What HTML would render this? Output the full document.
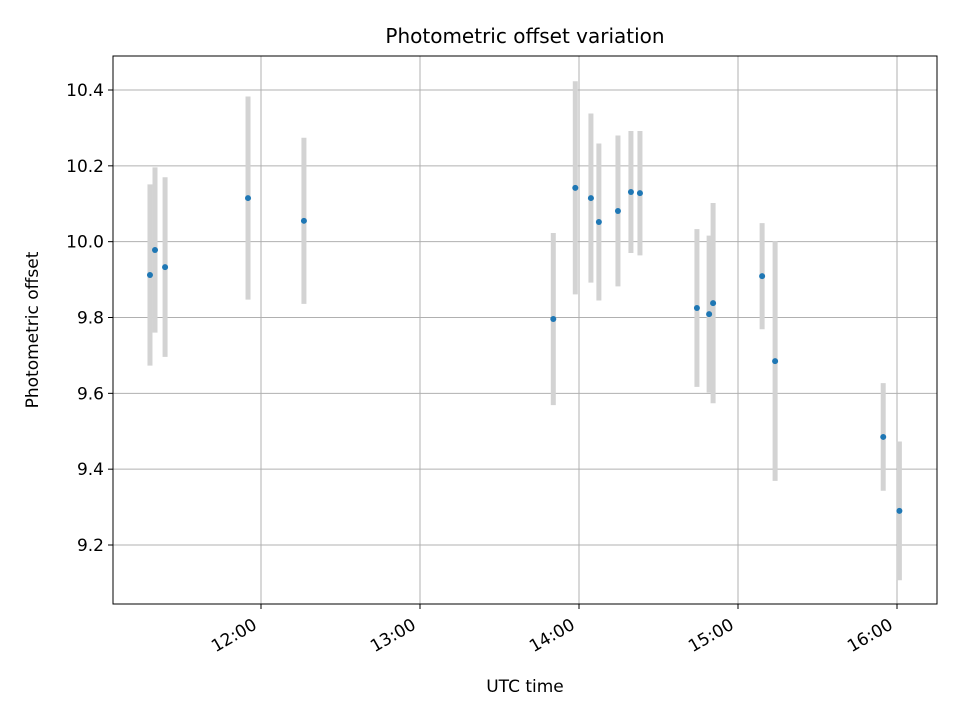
<!DOCTYPE html>
<html><head><meta charset="utf-8">
<style>
html,body{margin:0;padding:0;background:#fff;}
svg text{font-family:"DejaVu Sans","Liberation Sans",sans-serif;}
</style></head>
<body>
<svg id="chart" width="960" height="720" viewBox="0 0 960 720" xmlns="http://www.w3.org/2000/svg">
<rect width="960" height="720" fill="#fff"/>
<text x="525" y="43" style="font-size:20px" text-anchor="middle">Photometric offset variation</text>
<g id="grid"></g>
<g id="errs"></g>
<g id="pts"></g>
<rect x="113" y="56" width="824" height="548" fill="none" stroke="#000" stroke-width="1"/>
<g id="ticks"></g>
<text x="525" y="692" style="font-size:17px" text-anchor="middle">UTC time</text>
<text transform="translate(38,330) rotate(-90)" style="font-size:17px" text-anchor="middle">Photometric offset</text>
</svg>
<script>
// minutes relative to 12:00 UTC
const times = [-41.9,-40.0,-36.2,-4.9,16.2,110.3,118.6,124.5,127.5,134.7,139.6,143.0,164.5,169.1,170.6,189.1,194.0,234.8,240.9];
const offsets = [9.912,9.978,9.933,10.115,10.055,9.796,10.142,10.115,10.052,10.081,10.131,10.128,9.825,9.809,9.838,9.909,9.685,9.485,9.290];
const errors = [0.239,0.218,0.237,0.268,0.219,0.227,0.281,0.223,0.207,0.199,0.161,0.164,0.208,0.207,0.264,0.140,0.316,0.142,0.183];
const xTicks = [0,60,120,180,240];
const xTickLabels = ["12:00","13:00","14:00","15:00","16:00"];
const yTicks = [9.2,9.4,9.6,9.8,10.0,10.2,10.4];
const yTickLabels = ["9.2","9.4","9.6","9.8","10.0","10.2","10.4"];

const L=113,R=937,T=56,B=604;
function xs(m){return 261 + m*159/60;}
function ys(v){return 90 + (10.4-v)*379.17;}
const NS="http://www.w3.org/2000/svg";
function mk(tag,attrs,parent){const e=document.createElementNS(NS,tag);for(const k in attrs)e.setAttribute(k,attrs[k]);parent.appendChild(e);return e;}
const grid=document.getElementById('grid'),ticks=document.getElementById('ticks'),errs=document.getElementById('errs'),pts=document.getElementById('pts');

xTicks.forEach((m,i)=>{
  const x=xs(m);
  const g=mk('line',{x1:x,x2:x,y1:T,y2:B,stroke:'#b0b0b0','stroke-width':1},grid);
  
  
  const t=mk('line',{x1:x,x2:x,y1:B,y2:B+5,stroke:'#000','stroke-width':1},ticks);
  
  
  const ax=x-3, ay=B+24;
  const lb=mk('text',{x:ax,y:ay,style:'font-size:17px','text-anchor':'end',transform:`rotate(-30 ${ax} ${ay})`},ticks);
  lb.textContent=xTickLabels[i];
  
  
});
yTicks.forEach((v,i)=>{
  const y=ys(v);
  const g=mk('line',{x1:L,x2:R,y1:y,y2:y,stroke:'#b0b0b0','stroke-width':1},grid);
  
  
  const t=mk('line',{x1:L-5,x2:L,y1:y,y2:y,stroke:'#000','stroke-width':1},ticks);
  
  
  const lb=mk('text',{x:L-9,y:y+6,style:'font-size:17px','text-anchor':'end'},ticks);
  lb.textContent=yTickLabels[i];
  
  
});
times.forEach((m,i)=>{
  const x=xs(m);
  const e=mk('line',{x1:x,x2:x,y1:ys(offsets[i]+errors[i]),y2:ys(offsets[i]-errors[i]),stroke:'#d3d3d3','stroke-width':5},errs);
  
  
  const c=mk('circle',{cx:x,cy:ys(offsets[i]),r:3,fill:'#1f77b4'},pts);
  
  
});
</script>
</body></html>
